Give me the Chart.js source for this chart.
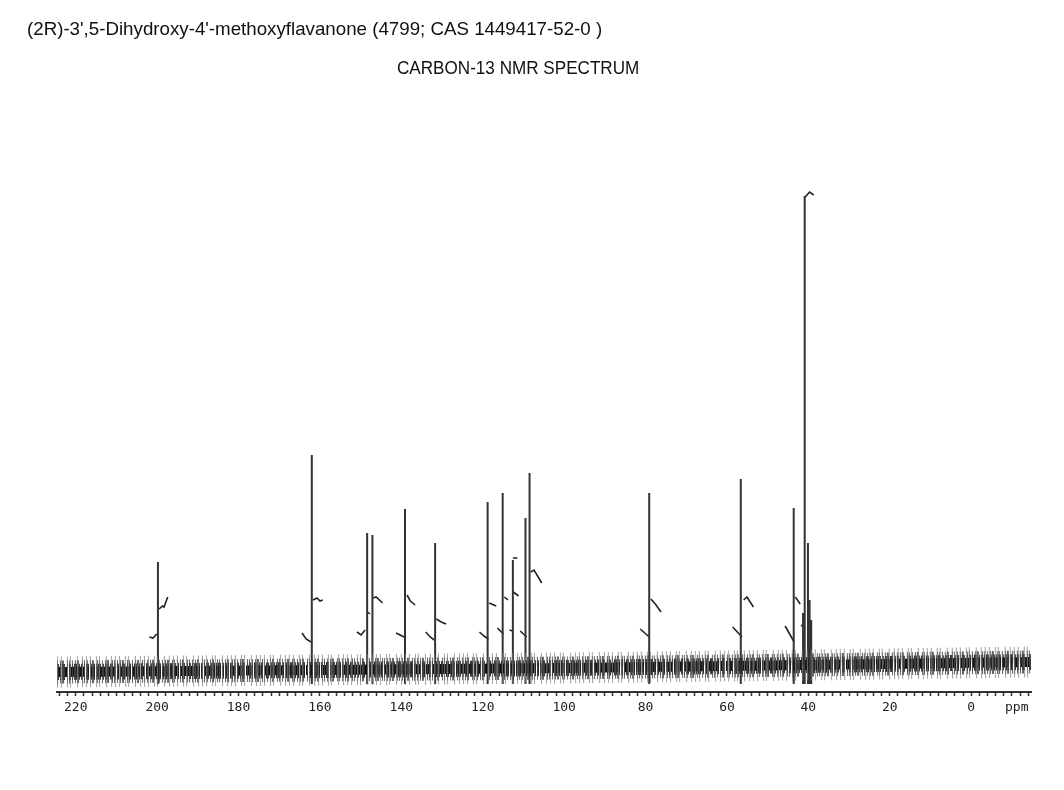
<!DOCTYPE html>
<html>
<head>
<meta charset="utf-8">
<script src="https://cdn.jsdelivr.net/npm/chart.js@4.4.1/dist/chart.umd.min.js"></script>
<style>
  body { margin: 0; background: #fff; }
  #wrap { position: relative; width: 1064px; height: 790px; }
  .ttl { position: absolute; font-family: "Liberation Sans", sans-serif; color: #111; white-space: nowrap; line-height: 1; transform-origin: 0 0; }
  #t1 { left: 27px; top: 19px; font-size: 19px; transform: scaleX(0.985); }
  #t2 { left: 397px; top: 58px; font-size: 19px; transform: scaleX(0.9); }
  canvas { position: absolute; left: 0; top: 0; }
</style>
</head>
<body>
<div id="wrap">
  <canvas id="nmr" width="1064" height="790"></canvas>
  <div class="ttl" id="t1">(2R)-3',5-Dihydroxy-4'-methoxyflavanone (4799; CAS 1449417-52-0 )</div>
  <div class="ttl" id="t2">CARBON-13 NMR SPECTRUM</div>
</div>
<script>
// peaks: shift (ppm) and height (arbitrary units above the axis line)
var peakPpm    = [199.8, 162.0, 148.4, 147.1, 139.1, 131.7, 118.8, 115.1, 112.6, 109.5, 108.5, 79.1, 56.6, 43.6, 41.3, 40.9, 40.1, 39.7, 39.3];
var peakHeight = [130,   237,   159,   157,   183,   149,   190,   199,   132,   174,   219,   199,  213,  184,  79,   496,  149,  92,   72];

// noise band centre line (drifts up a little towards high field)
var noisePpm   = [224.6, 160, 100, 40, -14.7];
var noiseLevel = [20,    22,  24,  27, 30];

// integral traces, one list of [ppm, height] per little segment
var integralSegs = [
  [[201.9,55],[201.0,54],[200.1,58]],
  [[199.5,83],[198.7,86],[198.3,85],[197.4,95]],
  [[164.4,59],[163.4,53],[162.2,50]],
  [[161.7,92],[160.7,94],[160.0,91],[159.3,92]],
  [[150.9,60],[149.9,57],[148.9,62]],
  [[148.3,80],[147.7,78]],
  [[146.9,94],[146.2,95],[144.6,89]],
  [[141.3,59],[139.3,55]],
  [[138.6,97],[137.8,91],[136.6,87]],
  [[134.0,60],[132.9,55],[131.9,52]],
  [[131.4,73],[130.2,70],[129.0,68]],
  [[120.8,60],[119.7,56],[118.6,53]],
  [[118.4,89],[116.7,86]],
  [[116.4,64],[114.9,58]],
  [[114.7,95],[113.8,92]],
  [[113.4,62],[112.6,61]],
  [[112.5,100],[111.2,96]],
  [[112.6,134],[111.5,134]],
  [[110.8,61],[109.2,55]],
  [[108.2,120],[107.4,122],[105.5,109]],
  [[81.3,63],[79.1,55]],
  [[78.7,93],[77.6,88],[76.2,80]],
  [[58.6,65],[56.3,55]],
  [[55.9,92],[55.1,95],[53.5,85]],
  [[45.7,66],[43.5,50]],
  [[43.2,95],[42.0,88]],
  [[41.8,67],[40.8,64]],
  [[41.0,494],[39.7,500],[38.7,497]]
];

var majorTicks = [220, 200, 180, 160, 140, 120, 100, 80, 60, 40, 20, 0];
var unitLabel = 'ppm';
var unitPos = -11.2;

var footLevel = 8;

var peakData = [];
for (var i = 0; i < peakPpm.length; i++) {
  peakData.push({x: peakPpm[i], y: footLevel});
  peakData.push({x: peakPpm[i], y: peakHeight[i]});
  peakData.push({x: peakPpm[i], y: null});
}
var integralData = [];
integralSegs.forEach(function (seg) {
  seg.forEach(function (p) { integralData.push({x: p[0], y: p[1]}); });
  integralData.push({x: seg[seg.length - 1][0], y: null});
});
var noiseData = noisePpm.map(function (p, i) { return {x: p, y: noiseLevel[i]}; });

var tickVals = [];
for (var v = 224; v >= -14; v -= 2) tickVals.push(v);
tickVals.push(unitPos);

// the noisy baseline is drawn as stacked dashed strokes
function band(w, col, dash) {
  return { data: noiseData, borderColor: col, borderWidth: w, borderDash: dash, pointRadius: 0, tension: 0 };
}

new Chart(document.getElementById('nmr'), {
  type: 'line',
  data: {
    datasets: [
      band(31, 'rgba(120,120,120,0.7)', [1, 3, 1, 5, 1, 2, 1, 6, 1, 4, 1, 3]),
      band(23, 'rgba(70,70,70,0.85)', [1, 2, 1, 1, 2, 3, 1, 1, 1, 2]),
      band(16, 'rgba(35,35,35,0.9)', [2, 1, 1, 1, 3, 2, 1, 1]),
      band(10, '#111', [4, 1, 2, 1, 3, 1, 5, 1, 2, 1]),
      { data: peakData, borderColor: '#333', borderWidth: 2, pointRadius: 0, spanGaps: false },
      { data: integralData, borderColor: '#222', borderWidth: 1.6, pointRadius: 0, spanGaps: false }
    ]
  },
  options: {
    responsive: false,
    animation: false,
    layout: { padding: { left: 57, right: 33, top: 100, bottom: 68 } },
    plugins: { legend: { display: false }, tooltip: { enabled: false } },
    scales: {
      x: {
        type: 'linear',
        reverse: true,
        min: -14.7,
        max: 224.6,
        afterBuildTicks: function (scale) {
          scale.ticks = tickVals.map(function (t) { return {value: t}; });
        },
        afterFit: function (scale) { scale.height = 30; },
        border: { display: true, color: '#333', width: 2 },
        grid: {
          drawOnChartArea: false,
          drawTicks: true,
          tickLength: 4,
          tickColor: function (ctx) { return ctx.tick && ctx.tick.value === unitPos ? 'rgba(0,0,0,0)' : '#333'; },
          tickWidth: 1.5
        },
        ticks: {
          autoSkip: false,
          maxRotation: 0,
          padding: 4,
          color: '#222',
          font: { family: 'DejaVu Sans Mono', size: 13 },
          callback: function (value) {
            if (value === unitPos) return unitLabel;
            return majorTicks.indexOf(value) >= 0 ? String(value) : '';
          }
        }
      },
      y: { display: false, min: 0, max: 592 }
    }
  }
});
</script>
</body>
</html>
